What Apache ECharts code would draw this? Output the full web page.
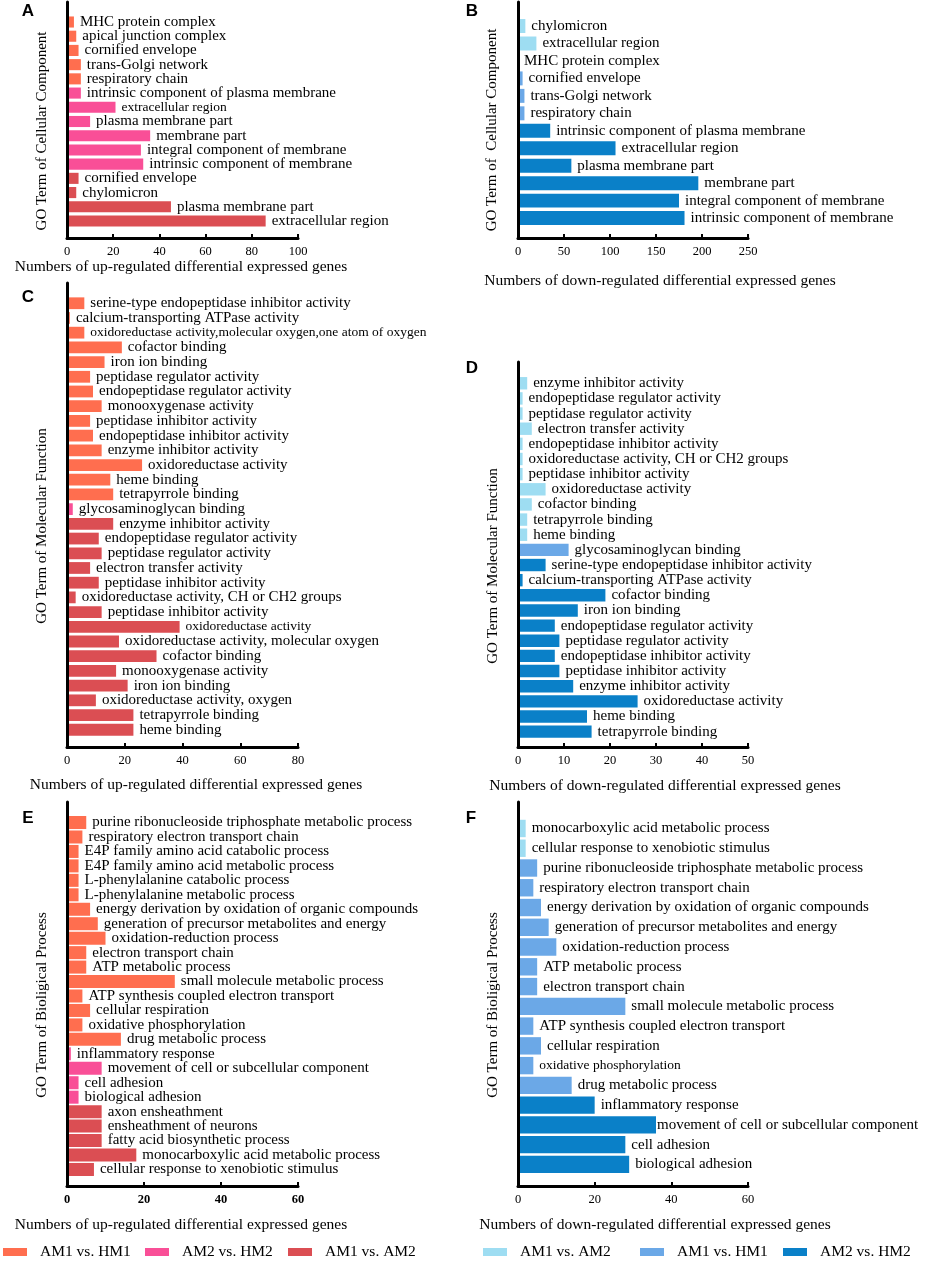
<!DOCTYPE html>
<html><head><meta charset="utf-8">
<script src="https://cdn.jsdelivr.net/npm/echarts@6/dist/echarts.min.js"></script>
<style>html,body{margin:0;padding:0;background:#fff}#c{width:927px;height:1261px}</style>
</head><body><div id="c"></div>
<script>
// ---------------- DATA ----------------
const upNames = ['AM1 vs. HM1', 'AM2 vs. HM2', 'AM1 vs. AM2'];
const downNames = ['AM1 vs. AM2 (down)', 'AM1 vs. HM1 (down)', 'AM2 vs. HM2 (down)'];

// A: up-regulated, cellular component
const aTerms = ['MHC protein complex','apical junction complex','cornified envelope','trans-Golgi network','respiratory chain',
  'intrinsic component of plasma membrane','extracellular region','plasma membrane part','membrane part','integral component of membrane','intrinsic component of membrane',
  'cornified envelope','chylomicron','plasma membrane part','extracellular region'];
const aValues = [3,4,5,6,6, 6,21,10,36,32,33, 5,4,45,86];
const aGroupSizes = [5,6,4];

// B: down-regulated, cellular component
const bTerms = ['chylomicron','extracellular region',
  'MHC protein complex','cornified envelope','trans-Golgi network','respiratory chain',
  'intrinsic component of plasma membrane','extracellular region','plasma membrane part','membrane part','integral component of membrane','intrinsic component of membrane'];
const bValues = [8,20, 0,5,7,7, 35,106,58,196,175,181];
const bGroupSizes = [2,4,6];

// C: up-regulated, molecular function
const cTerms = ['serine-type endopeptidase inhibitor activity','calcium-transporting ATPase activity','oxidoreductase activity,molecular oxygen,one atom of oxygen',
  'cofactor binding','iron ion binding','peptidase regulator activity','endopeptidase regulator activity','monooxygenase activity','peptidase inhibitor activity',
  'endopeptidase inhibitor activity','enzyme inhibitor activity','oxidoreductase activity','heme binding','tetrapyrrole binding',
  'glycosaminoglycan binding',
  'enzyme inhibitor activity','endopeptidase regulator activity','peptidase regulator activity','electron transfer activity','peptidase inhibitor activity',
  'oxidoreductase activity, CH or CH2 groups','peptidase inhibitor activity','oxidoreductase activity','oxidoreductase activity, molecular oxygen',
  'cofactor binding','monooxygenase activity','iron ion binding','oxidoreductase activity, oxygen','tetrapyrrole binding','heme binding'];
const cValues = [6,1,6,19,13,8,9,12,8,9,12,26,15,16, 2, 16,11,12,8,11,3,12,39,18,31,17,21,10,23,23];
const cGroupSizes = [14,1,15];

// D: down-regulated, molecular function
const dTerms = ['enzyme inhibitor activity','endopeptidase regulator activity','peptidase regulator activity','electron transfer activity',
  'endopeptidase inhibitor activity','oxidoreductase activity, CH or CH2 groups','peptidase inhibitor activity','oxidoreductase activity',
  'cofactor binding','tetrapyrrole binding','heme binding',
  'glycosaminoglycan binding',
  'serine-type endopeptidase inhibitor activity','calcium-transporting ATPase activity','cofactor binding','iron ion binding',
  'endopeptidase regulator activity','peptidase regulator activity','endopeptidase inhibitor activity','peptidase inhibitor activity',
  'enzyme inhibitor activity','oxidoreductase activity','heme binding','tetrapyrrole binding'];
const dValues = [2,1,1,3,1,1,1,6,3,2,2, 11, 6,1,19,13,8,9,8,9,12,26,15,16];
const dGroupSizes = [11,1,12];

// E: up-regulated, biological process
const eTerms = ['purine ribonucleoside triphosphate metabolic process','respiratory electron transport chain','E4P family amino acid catabolic process',
  'E4P family amino acid metabolic process','L-phenylalanine catabolic process','L-phenylalanine metabolic process',
  'energy derivation by oxidation of organic compounds','generation of precursor metabolites and energy','oxidation-reduction process',
  'electron transport chain','ATP metabolic process','small molecule metabolic process','ATP synthesis coupled electron transport',
  'cellular respiration','oxidative phosphorylation','drug metabolic process',
  'inflammatory response','movement of cell or subcellular component','cell adhesion','biological adhesion',
  'axon ensheathment','ensheathment of neurons','fatty acid biosynthetic process','monocarboxylic acid metabolic process',
  'cellular response to xenobiotic stimulus'];
const eValues = [5,4,3,3,3,3,6,8,10,5,5,28,4,6,4,14, 1,9,3,3, 9,9,9,18,7];
const eGroupSizes = [16,4,5];

// F: down-regulated, biological process
const fTerms = ['monocarboxylic acid metabolic process','cellular response to xenobiotic stimulus',
  'purine ribonucleoside triphosphate metabolic process','respiratory electron transport chain','energy derivation by oxidation of organic compounds',
  'generation of precursor metabolites and energy','oxidation-reduction process','ATP metabolic process','electron transport chain',
  'small molecule metabolic process','ATP synthesis coupled electron transport','cellular respiration','oxidative phosphorylation','drug metabolic process',
  'inflammatory response','movement of cell or subcellular component','cell adhesion','biological adhesion'];
const fValues = [2,2, 5,4,6,8,10,5,5,28,4,6,4,14, 20,36,28,29];
const fGroupSizes = [2,12,4];

// x-axis tick labels
const aTicks = [0,20,40,60,80,100];
const bTicks = [0,50,100,150,200,250];
const cTicks = [0,20,40,60,80];
const dTicks = [0,10,20,30,40,50];
const eTicks = [0,20,40,60];
const fTicks = [0,20,40,60];

// ---------------- STYLE ----------------
const colors = {
  'AM1 vs. HM1': '#FF6E4F', 'AM2 vs. HM2': '#F94F97', 'AM1 vs. AM2': '#DB4E53',
  'AM1 vs. AM2 (down)': '#9EDDF2', 'AM1 vs. HM1 (down)': '#6BA8E7', 'AM2 vs. HM2 (down)': '#0A80C8'
};
const SERIF = 'Liberation Serif, Times New Roman, serif';
const smallLabel = { A: [6], C: [2, 22], F: [12] };
const tightLabel = { F: [15] };

const panels = [
  {k:'A', terms:aTerms, values:aValues, sizes:aGroupSizes, names:upNames, ticks:aTicks,
   frame:{left:67, top:2, width:231, height:236}, bars:{top:14.9, height:213.2}, bw:'78%', bold:false},
  {k:'B', terms:bTerms, values:bValues, sizes:bGroupSizes, names:downNames, ticks:bTicks,
   frame:{left:518, top:2, width:230, height:236}, bars:{top:17.3, height:209.5}, bw:'80%', bold:false},
  {k:'C', terms:cTerms, values:cValues, sizes:cGroupSizes, names:upNames, ticks:cTicks,
   frame:{left:67, top:283, width:231, height:464}, bars:{top:295.9, height:441.2}, bw:'80%', bold:false},
  {k:'D', terms:dTerms, values:dValues, sizes:dGroupSizes, names:downNames, ticks:dTicks,
   frame:{left:518, top:362, width:230, height:385}, bars:{top:375.7, height:363.5}, bw:'82%', bold:false},
  {k:'E', terms:eTerms, values:eValues, sizes:eGroupSizes, names:upNames, ticks:eTicks,
   frame:{left:67, top:802, width:231, height:384}, bars:{top:815.3, height:361.4}, bw:'90%', bold:true},
  {k:'F', terms:fTerms, values:fValues, sizes:fGroupSizes, names:downNames, ticks:fTicks,
   frame:{left:518, top:802, width:230, height:384}, bars:{top:818.6, height:355.7}, bw:'88%', bold:false}
];

const grid = [], xAxis = [], yAxis = [], series = [];
panels.forEach((p) => {
  const fg = grid.length;
  grid.push(Object.assign({outerBoundsMode:'none', containLabel:false}, p.frame));
  grid.push({outerBoundsMode:'none', containLabel:false, left:p.frame.left, width:p.frame.width, top:p.bars.top, height:p.bars.height});
  const min = p.ticks[0], max = p.ticks[p.ticks.length-1], interval = p.ticks[1]-p.ticks[0];
  // frame axes
  xAxis.push({gridIndex:fg, type:'value', min, max, interval, z:5,
    axisLine:{show:true, onZero:false, lineStyle:{color:'#000', width:3}},
    axisTick:{show:true, inside:true, length:4, lineStyle:{color:'#000', width:2}},
    axisLabel:{show:true, margin:7, color:'#000', fontFamily:SERIF, fontSize:12.5, fontWeight:p.bold?'bold':'normal'},
    splitLine:{show:false}});
  yAxis.push({gridIndex:fg, type:'value', min:0, max:1, z:5,
    axisLine:{show:true, onZero:false, lineStyle:{color:'#000', width:3}},
    axisTick:{show:false}, axisLabel:{show:false}, splitLine:{show:false}});
  // bar axes
  xAxis.push({gridIndex:fg+1, type:'value', min, max, show:false, splitLine:{show:false}});
  yAxis.push({gridIndex:fg+1, type:'category', inverse:true, show:false,
    data:p.terms.map((_, i) => String(i))});
  const grp = [];
  p.sizes.forEach((s, gi) => { for (let j = 0; j < s; j++) grp.push(gi); });
  const small = smallLabel[p.k] || [];
  const tight = tightLabel[p.k] || [];
  p.names.forEach((nm, gi) => {
    series.push({
      type:'bar', name:nm, xAxisIndex:xAxis.length-1, yAxisIndex:yAxis.length-1,
      stack:'s'+p.k, barWidth:p.bw, z:2,
      itemStyle:{color:colors[nm]},
      label:{show:true, position:'right', distance:6, color:'#000', fontFamily:SERIF, fontSize:15,
        formatter: (prm) => p.terms[prm.dataIndex]},
      emphasis:{disabled:true},
      data:p.values.map((v, i) => {
        if (grp[i] !== gi) return '-';
        if (small.indexOf(i) >= 0) return {value:v, label:{fontSize:13.5}};
        if (tight.indexOf(i) >= 0) return {value:v, label:{distance:1}};
        return v;
      })
    });
  });
});

const T = (text, x, y, extra) => ({type:'text', x, y, style:Object.assign({text, fill:'#000',
  font:'15.5px ' + SERIF, textAlign:'center', textVerticalAlign:'middle'}, extra || {})});
const Ttitle = (text, x, y) => T(text, x, y);
const Ylab = (text, x, y) => Object.assign(T(text, x, y, {font:'15px ' + SERIF}), {rotation:Math.PI/2});
const Letter = (text, x, y) => T(text, x, y, {font:'bold 17px Liberation Sans, Arial, sans-serif'});

const graphic = [
  Letter('A', 28, 11), Letter('B', 472, 11), Letter('C', 28, 297), Letter('D', 472, 368), Letter('E', 28, 818), Letter('F', 471, 818),
  Ylab('GO Term of Cellular Component', 42, 131), Ylab('GO Term of  Cellular Component', 492, 130),
  Ylab('GO Term of Molecular Function', 42, 526), Ylab('GO Term of Molecular Function', 493, 566),
  Ylab('GO Term of Bioligical Process', 42, 1005), Ylab('GO Term of Bioligical Process', 493, 1005),
  Ttitle('Numbers of up-regulated differential expressed genes', 181, 267),
  Ttitle('Numbers of down-regulated differential expressed genes', 660, 281),
  Ttitle('Numbers of up-regulated differential expressed genes', 196, 785),
  Ttitle('Numbers of down-regulated differential expressed genes', 665, 786),
  Ttitle('Numbers of up-regulated differential expressed genes', 181, 1225),
  Ttitle('Numbers of down-regulated differential expressed genes', 655, 1225)
];

const legendLefts = [3, 145, 288, 483, 640, 783];
const legend = upNames.concat(downNames).map((nm, i) => ({
  data:[nm], left:legendLefts[i], top:1244, padding:0, itemWidth:24, itemHeight:8, icon:'rect',
  selectedMode:false,
  formatter:(n) => n.replace(' (down)', ''),
  textStyle:{color:'#000', fontFamily:SERIF, fontSize:15.5, padding:[0,0,0,8]}
}));

const chart = echarts.init(document.getElementById('c'), null, {renderer:'canvas'});
chart.setOption({backgroundColor:'#fff', animation:false, grid, xAxis, yAxis, series, legend, graphic});
</script></body></html>
